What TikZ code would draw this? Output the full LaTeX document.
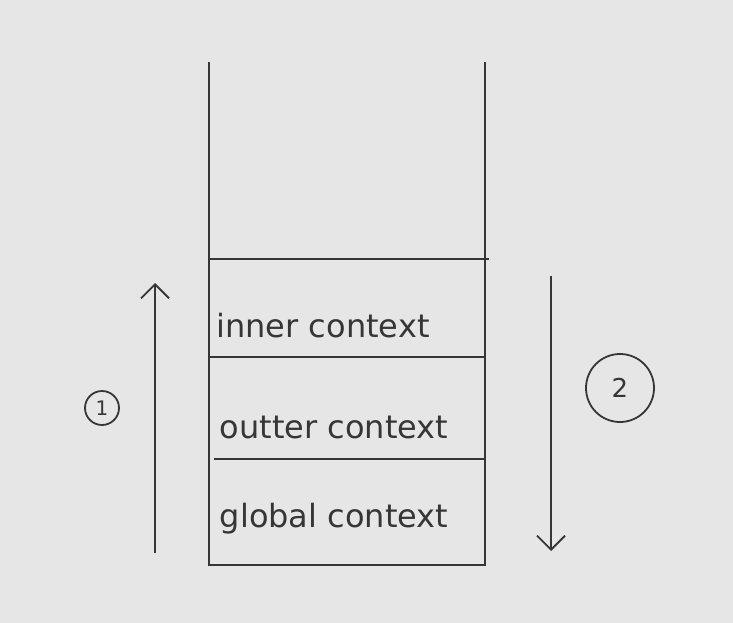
\documentclass[tikz,border=0pt]{standalone}
\usepackage{fontspec}
\setmainfont{DejaVu Sans}
\usetikzlibrary{arrows.meta}
\definecolor{bg}{HTML}{E6E6E6}
\definecolor{ink}{HTML}{363636}
\begin{document}
\begin{tikzpicture}[x=1pt,y=-1pt,
  line/.style={draw=ink,line width=2pt},
  flow/.style={draw=ink,line width=2pt,-{Straight Barb[length=14pt,width=28pt,line width=1.8pt]}},
  lbl/.style={text=ink,font=\fontsize{32}{34}\selectfont,inner sep=0pt},
  num/.style={circle,draw=ink,line width=1.8pt,text=ink,inner sep=0pt,font=\fontsize{26}{28}\selectfont}]
\fill[bg] (0,0) rectangle (733,623);
\useasboundingbox (0,0) rectangle (733,623);
% stack
\coordinate (tl) at (209,62);
\coordinate (tr) at (485,62);
\coordinate (bl) at (209,565);
\coordinate (br) at (485,565);
\draw[line] (tl) -- (bl) -- (br) -- (tr);
\coordinate (d1l) at (209,259); \coordinate (d1r) at (489,259);
\coordinate (d2l) at (209,357); \coordinate (d2r) at (485,357);
\coordinate (d3l) at (214,459); \coordinate (d3r) at (485,459);
\draw[line] (d1l) -- (d1r);
\draw[line] (d2l) -- (d2r);
\draw[line] (d3l) -- (d3r);
\node[lbl] (inner) at (323,326) {inner context};
\node[lbl] (outer) at (334,427) {outter context};
\node[lbl] (global) at (334,519) {global context};
% arrows
\coordinate (a1s) at (155,553);
\coordinate (a1e) at (155,283);
\draw[flow] (a1s) -- (a1e);
\coordinate (a2s) at (551,276);
\coordinate (a2e) at (551,551);
\draw[flow] (a2s) -- (a2e);
\node[num,minimum size=34pt,font=\fontsize{20}{22}\selectfont] (n1) at (102,408) {1};
\node[num,minimum size=68pt] (n2) at (620,388) {2};
\end{tikzpicture}
\end{document}
